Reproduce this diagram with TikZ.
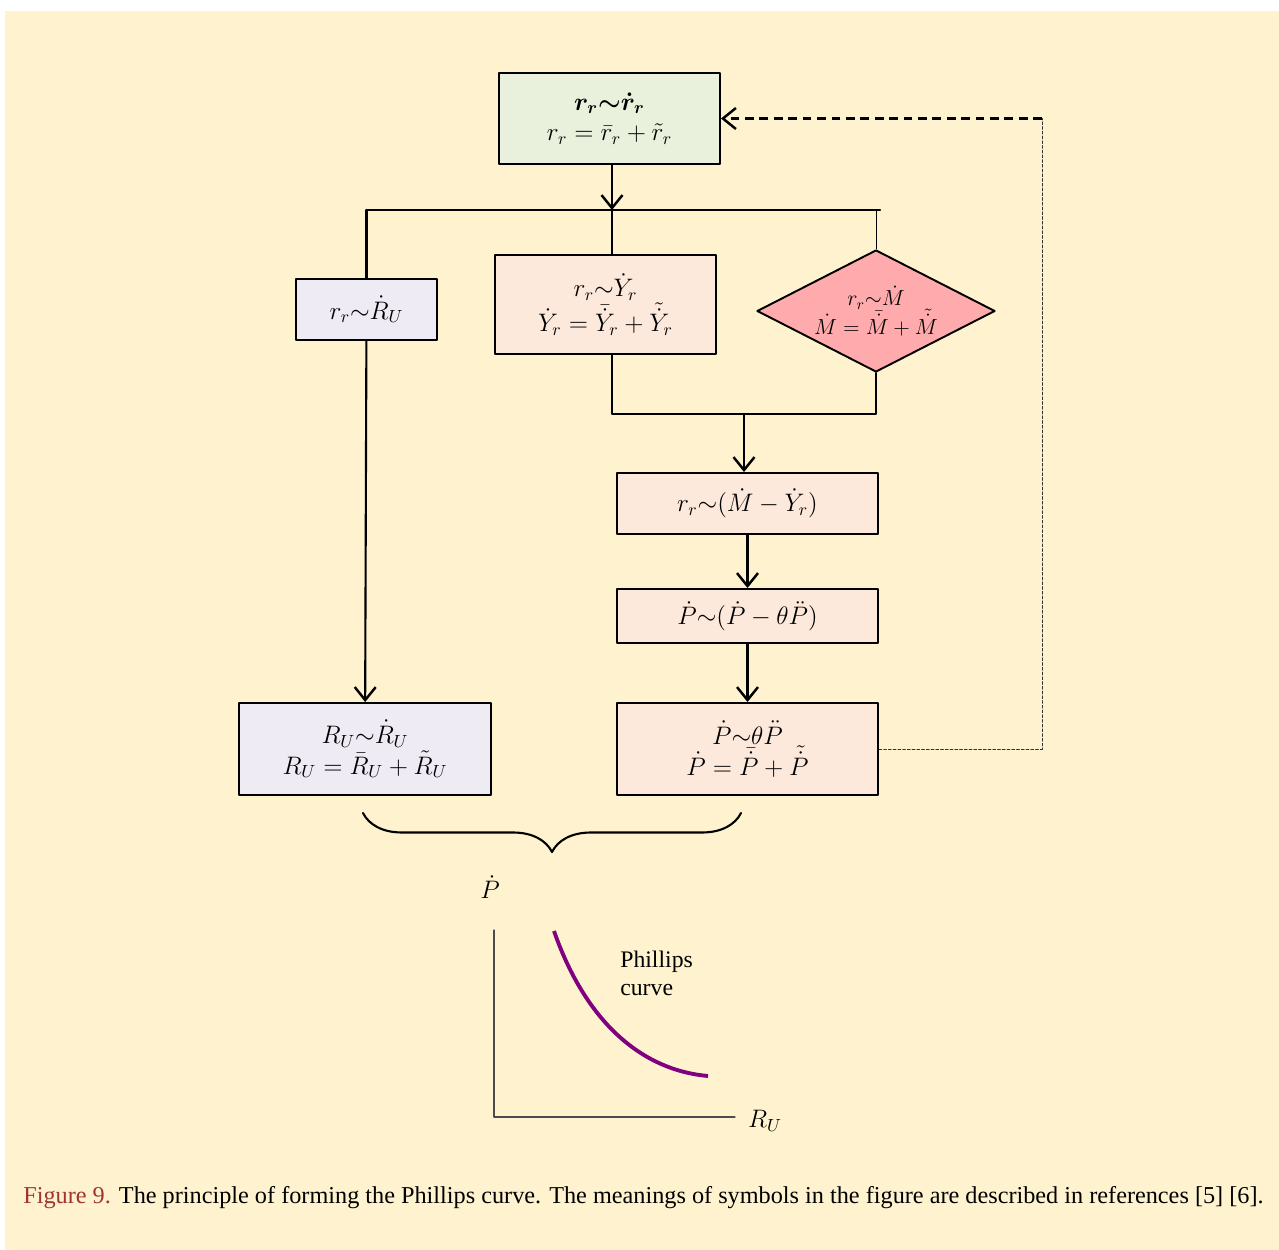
\documentclass[tikz,border=0pt]{standalone}
\usepackage{amsmath}
\usepackage{fontspec}
\setmainfont{Liberation Serif}
\usetikzlibrary{arrows.meta,shapes.geometric,decorations.pathreplacing}
\definecolor{bgcream}{RGB}{254,243,206}
\definecolor{topgreen}{RGB}{233,240,219}
\definecolor{lav}{RGB}{238,235,244}
\definecolor{peach}{RGB}{252,233,219}
\definecolor{pinkd}{RGB}{255,171,173}
\definecolor{curvepurple}{RGB}{128,0,128}
\definecolor{capred}{RGB}{160,52,52}
\begin{document}
\begin{tikzpicture}[x=0.02cm,y=-0.02cm,>={Straight Barb[length=2.6mm,width=4.2mm,line width=1.4pt]}, line join=round, line cap=round]
		\tikzset{box/.style 2 args={draw,line width=1.1pt,minimum width=#1*0.02cm,minimum height=#2*0.02cm,inner sep=0pt,align=center,font=\fontsize{14.4}{17.5}\selectfont}}
		\tikzset{link/.style={line width=1.2pt}, fb dot/.style={line width=0.5pt,gray!40!black,dash pattern=on 1.6pt off 1.1pt}}
		\def \mathsize{\fontsize{14.4}{17}\selectfont}
		\def \sm{{\sim}}
		\fill[white] (0,0) rectangle (1279,1250);
		\fill[bgcream] (5,11) rectangle (1279,1250);
		\useasboundingbox (0,0) rectangle (1279,1250);
		\node[box={221}{91},fill=topgreen] (rr) at (609.5,118.5) {$\boldsymbol{r_r{\sim}\dot r_r}$\\ $r_r=\bar r_r+\tilde r_r$};
		\node[box={141}{61},fill=lav] (rru) at (366.5,309.5) {$r_r\sm\dot R_U$};
		\node[box={221}{99},fill=peach] (ry) at (605.5,304.5) {$r_r\sm\dot Y_r$\\ $\dot Y_r=\bar{\dot Y}_r+\tilde{\dot Y}_r$};
		\node[draw,diamond,line width=1.1pt,fill=pinkd,minimum width=238*0.02cm,minimum height=122*0.02cm,inner sep=0pt] (rm) at (876,311) {};
		\node[align=center,inner sep=0pt,scale=0.86,font=\fontsize{14.4}{19}\selectfont] (rmtext) at (rm.center) {$r_r\sm\dot M$\\ $\dot M=\bar{\dot M}+\tilde{\dot M}$};
		\node[box={261}{61},fill=peach] (rmy) at (747.5,503.5) {$r_r\sm(\dot M-\dot Y_r)$};
		\node[box={261}{54},fill=peach] (pp) at (747.5,616) {$\dot P\sm(\dot P-\theta\ddot P)$};
		\node[box={261}{92},fill=peach] (pt) at (747.5,749) {$\dot P\sm\theta\ddot P$\\ $\dot P=\bar{\dot P}+\tilde{\dot P}$};
		\node[box={252}{92},fill=lav] (ru) at (365,749) {$R_U\sm\dot R_U$\\ $R_U=\bar R_U+\tilde R_U$};
		\coordinate (split) at (612,210);
		\coordinate (splitL) at (rru.north |- split);
		\coordinate (splitR) at (880,210);
		\coordinate (join) at (744,414);
		\draw[->,link,line width=1.4pt] (rr.south -| split) -- (split);
		\draw[link] (splitL) -- (splitR);
		\draw[link] (splitL) -- (rru.north);
		\draw[link] (split) -- (split |- ry.north);
		\draw[line width=0.5pt] (rm.north |- split) -- (rm.north);
		\draw[link] (ry.south -| split) |- (join) -| (rm.south);
		\draw[->,link] (join) -- (join |- rmy.north);
		\draw[->,link] (rmy) -- (pp);
		\draw[->,link] (pp) -- (pt);
		\draw[->,link] (rru) -- (ru);
		\coordinate (fbB) at (1042,749);
		\coordinate (fbT) at (1042,118.5);
		\draw[fb dot] (pt.east) -- (fbB) -- (fbT);
		\draw[->,line width=1.4pt,dash pattern=on 5pt off 3.2pt,line cap=butt] (fbT) -- (rr.east);
		\coordinate (brL) at (363,813);
		\coordinate (brR) at (741,813);
		\draw[line width=1.2pt,decorate,decoration={brace,mirror,amplitude=0.78cm}] (brL) -- (brR);
		\coordinate (org) at (494,1117);
		\draw[line width=0.6pt,gray!60!black] (494,930) -- (org) -- (735,1117);
		\node[font=\mathsize] (ylab) at (490,887) {$\dot P$};
		\node[font=\mathsize,anchor=west] (xlab) at (742,1121) {$R_U$};
		\draw[line width=2.2pt,curvepurple,line cap=butt] (554,931) .. controls (585,1020) and (640,1070) .. (708,1076);
		\node[anchor=north west,align=left,inner sep=0pt,font=\fontsize{13.5}{15.5}\selectfont] (plab) at (620,951) {Phillips\\curve};
		\node[anchor=base west,inner sep=0pt,font=\fontsize{13.8}{16}\selectfont] (cap) at (23,1203) {\textcolor{capred}{Figure 9.} The principle of forming the Phillips curve. The meanings of symbols in the figure are described in references [5] [6].};
\end{tikzpicture}
\end{document}
